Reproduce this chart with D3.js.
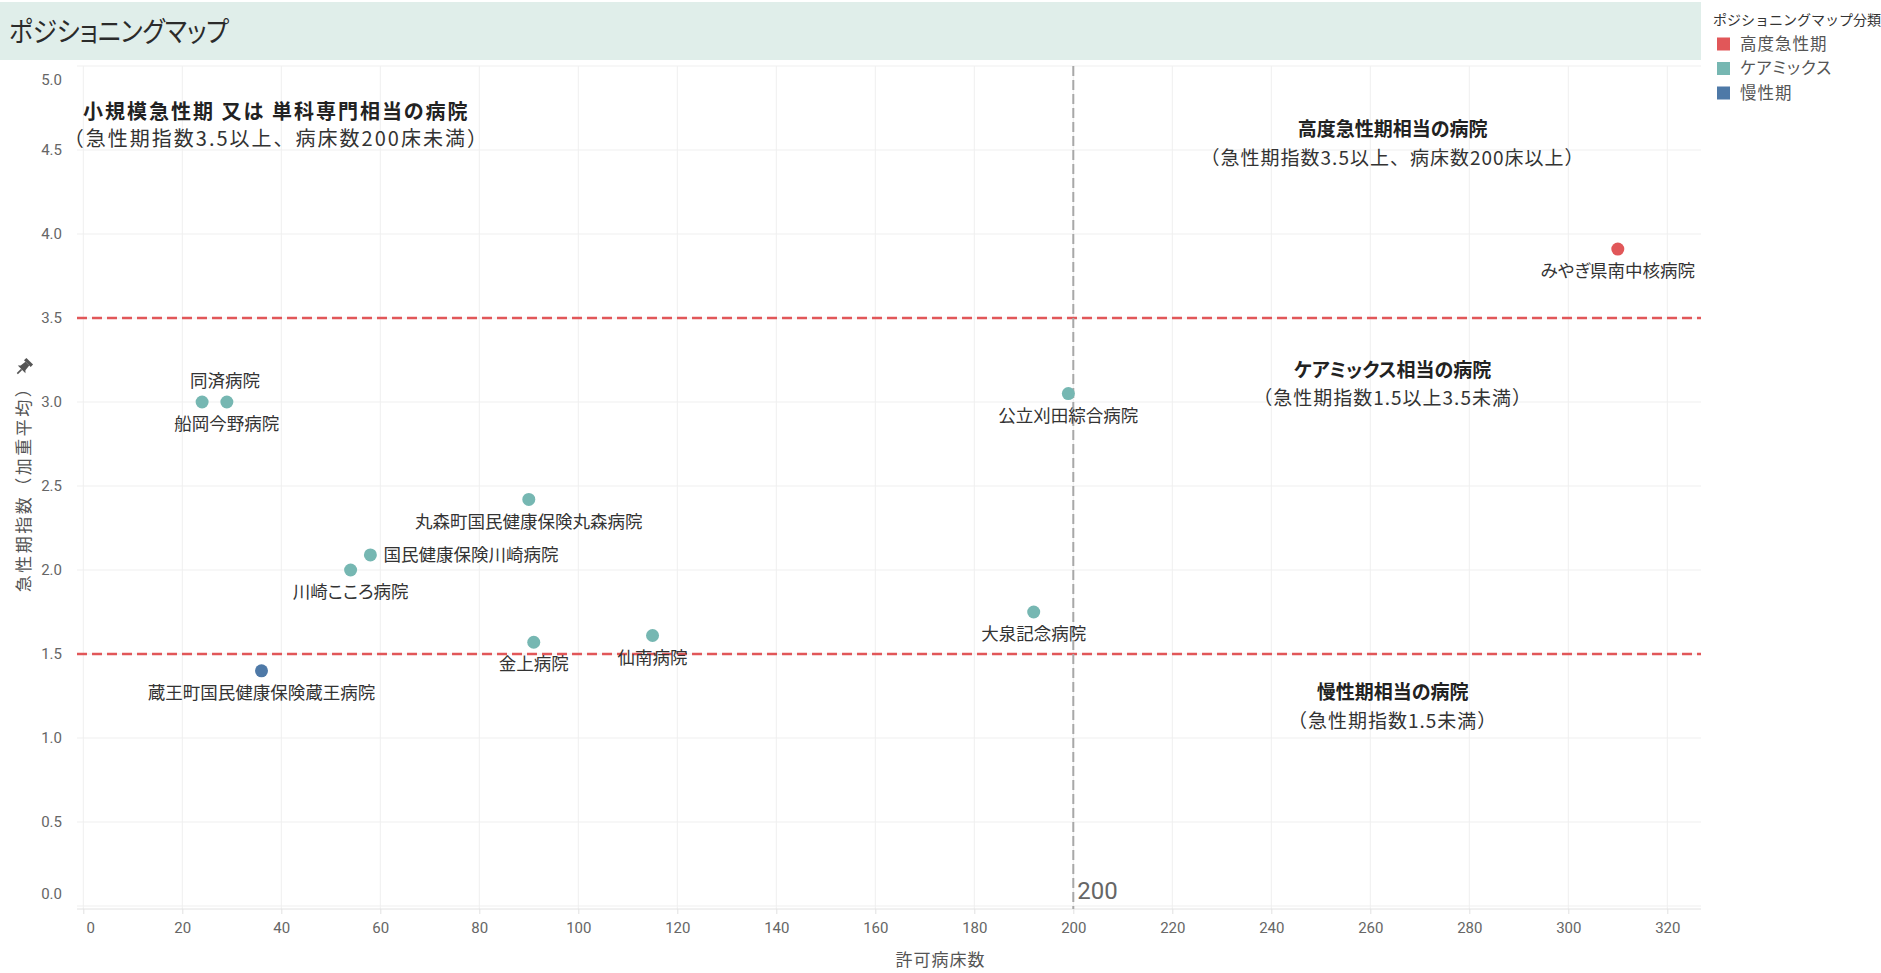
<!DOCTYPE html>
<meta charset="UTF-8">
<style>
body { margin: 0; background: #fff; }
svg text { font-family: "Noto Sans CJK JP", "Noto Sans", sans-serif; }
.grid line { stroke: #efefef; stroke-width: 1px; }
.axis .tick text { font-family: Roboto, "Liberation Sans", sans-serif; font-size: 15px; fill: #666; }
.axis .tick line { stroke: #e2e2e2; }
.mark-label { font-size: 17.5px; fill: #333; font-feature-settings: "palt"; }
.note-title { font-size: 19px; font-weight: bold; fill: #222; font-feature-settings: "palt"; }
.note-sub { font-size: 19px; fill: #333; letter-spacing: 1px; }
.note.big .note-title { font-size: 20px; letter-spacing: 2px; }
.note.big .note-sub { font-size: 20px; letter-spacing: 2px; }
.axis-title { font-size: 17px; fill: #555; letter-spacing: 1px; }
</style>
<body>
<script src="https://d3js.org/d3.v7.min.js"></script>
<script>
// ---- data ----
var hospitals = ["みやぎ県南中核病院", "公立刈田綜合病院", "同済病院", "船岡今野病院",
  "丸森町国民健康保険丸森病院", "国民健康保険川崎病院", "川崎こころ病院", "大泉記念病院",
  "金上病院", "仙南病院", "蔵王町国民健康保険蔵王病院"];
var beds = [310, 199, 24, 29, 90, 58, 54, 192, 91, 115, 36];
var acuteIndex = [3.91, 3.05, 3.0, 3.0, 2.42, 2.09, 2.0, 1.75, 1.57, 1.61, 1.40];
var category = ["高度急性期", "ケアミックス", "ケアミックス", "ケアミックス", "ケアミックス",
  "ケアミックス", "ケアミックス", "ケアミックス", "ケアミックス", "ケアミックス", "慢性期"];

var categories = ["高度急性期", "ケアミックス", "慢性期"];
var categoryColors = ["#e15759", "#76b7b2", "#4e79a7"];

var xTicks = [0, 20, 40, 60, 80, 100, 120, 140, 160, 180, 200, 220, 240, 260, 280, 300, 320];
var yTicks = [0, 0.5, 1.0, 1.5, 2.0, 2.5, 3.0, 3.5, 4.0, 4.5, 5.0];
var acuteLines = [3.5, 1.5];
var bedLine = 200;

var noteTitles = ["小規模急性期 又は 単科専門相当の病院", "高度急性期相当の病院", "ケアミックス相当の病院", "慢性期相当の病院"];
var noteSubs = ["（急性期指数3.5以上、病床数200床未満）", "（急性期指数3.5以上、病床数200床以上）",
  "（急性期指数1.5以上3.5未満）", "（急性期指数1.5未満）"];

// ---- layout ----
var width = 1881, height = 973;
var plot = {left: 77, right: 1701, top: 66, bottom: 909};
// note anchors, in axis units
var noteAnchor = [[39, 4.725], [264.5, 4.62], [264.5, 3.19], [264.5, 1.27]];
// label placement for the marks (default: below)
var labelSide = {"国民健康保険川崎病院": "right", "同済病院": "above"};
var labelShift = {"同済病院": 23};

var svg = d3.select("body").append("svg")
    .attr("width", width)
    .attr("height", height);

var x = d3.scaleLinear().domain([0, 320]).range([83.3, 1667.3]);
var y = d3.scaleLinear().domain([0, 5]).range([906, 66]);
var color = d3.scaleOrdinal().domain(categories).range(categoryColors);

// title band
svg.append("rect")
    .attr("x", 0).attr("y", 2)
    .attr("width", plot.right).attr("height", 58)
    .attr("fill", "#e0eeea");
svg.append("text")
    .attr("transform", "translate(9,42) scale(0.88,1)")
    .style("font-size", "28px")
    .style("font-feature-settings", "'palt'")
    .attr("fill", "#2b2b2b")
    .text("ポジショニングマップ");

// grid
var grid = svg.append("g").attr("class", "grid");
grid.selectAll("line.v").data(xTicks).enter().append("line")
    .attr("class", "v")
    .attr("x1", function(d) { return x(d); })
    .attr("x2", function(d) { return x(d); })
    .attr("y1", plot.top).attr("y2", plot.bottom);
grid.selectAll("line.h").data(yTicks).enter().append("line")
    .attr("class", "h")
    .attr("x1", plot.left).attr("x2", plot.right)
    .attr("y1", function(d) { return y(d); })
    .attr("y2", function(d) { return y(d); });

// axes
var xAxis = svg.append("g")
    .attr("class", "axis")
    .attr("transform", "translate(0," + plot.bottom + ")")
    .call(d3.axisBottom(x).tickValues(xTicks).tickSize(5).tickPadding(8).tickFormat(d3.format("d")));
xAxis.select(".domain").remove();
// first label is nudged inward, as in the original
xAxis.selectAll(".tick text").attr("dx", function(d) { return d === 0 ? 7 : 0; });
svg.append("line")
    .attr("x1", plot.left).attr("x2", plot.right)
    .attr("y1", plot.bottom).attr("y2", plot.bottom)
    .attr("stroke", "#e2e2e2");

var yAxis = svg.append("g")
    .attr("class", "axis")
    .attr("transform", "translate(" + plot.left + ",0)")
    .call(d3.axisLeft(y).tickValues(yTicks).tickSize(0).tickPadding(15).tickFormat(d3.format(".1f")));
yAxis.select(".domain").remove();
// keep the end labels inside the plot
yAxis.selectAll(".tick text")
    .attr("dy", function(d) { return d === 5 ? "1.2em" : d === 0 ? "-0.5em" : "0.32em"; });

// axis titles, centred on the whole sheet
svg.append("text")
    .attr("class", "axis-title")
    .attr("x", width / 2)
    .attr("y", 966)
    .attr("text-anchor", "middle")
    .text("許可病床数");

svg.append("text")
    .attr("class", "axis-title")
    .attr("transform", "translate(30,485) rotate(-90)")
    .attr("text-anchor", "middle")
    .style("letter-spacing", "2.5px")
    .text("急性期指数（加重平均）");

// pin glyph at the end of the y title
var pin = svg.append("g").attr("transform", "translate(24,367) rotate(45) scale(1.35)").attr("fill", "#555");
pin.append("rect").attr("x", -3.5).attr("y", -6).attr("width", 7).attr("height", 2.5);
pin.append("path").attr("d", "M-2,-3.5 L2,-3.5 L2.5,1 L4,2.5 L-4,2.5 L-2.5,1 Z");
pin.append("line").attr("x1", 0).attr("x2", 0).attr("y1", 2.5).attr("y2", 7)
    .attr("stroke", "#555").attr("stroke-width", 1.2);

// reference lines
svg.selectAll("line.acute").data(acuteLines).enter().append("line")
    .attr("class", "acute")
    .attr("x1", plot.left).attr("x2", plot.right)
    .attr("y1", function(d) { return y(d); })
    .attr("y2", function(d) { return y(d); })
    .attr("stroke", "#e15759")
    .attr("stroke-width", 2.5)
    .attr("stroke-dasharray", "10,5");

svg.append("line")
    .attr("x1", x(bedLine)).attr("x2", x(bedLine))
    .attr("y1", plot.top).attr("y2", plot.bottom)
    .attr("stroke", "#a8a8a8")
    .attr("stroke-width", 2)
    .attr("stroke-dasharray", "10,4");
svg.append("text")
    .attr("x", x(bedLine) + 4)
    .attr("y", 899)
    .style("font-family", "Roboto, sans-serif")
    .style("font-size", "24px")
    .attr("fill", "#666")
    .text(bedLine);

// quadrant notes
var notes = svg.selectAll("g.note").data(noteTitles).enter().append("g")
    .attr("class", function(d, i) { return i === 0 ? "note big" : "note"; })
    .attr("transform", function(d, i) {
      return "translate(" + x(noteAnchor[i][0]) + "," + y(noteAnchor[i][1]) + ")";
    });
notes.append("text")
    .attr("class", "note-title")
    .attr("text-anchor", "middle")
    .attr("dy", "0.35em")
    .text(function(d) { return d; });
notes.append("text")
    .attr("class", "note-sub")
    .attr("text-anchor", "middle")
    .attr("y", function(d, i) { return i === 0 ? 27 : 28.5; })
    .attr("dy", "0.35em")
    .text(function(d, i) { return noteSubs[i]; });

// marks
var idx = d3.range(hospitals.length);
svg.selectAll("circle.mark").data(idx).enter().append("circle")
    .attr("class", "mark")
    .attr("cx", function(i) { return x(beds[i]); })
    .attr("cy", function(i) { return y(acuteIndex[i]); })
    .attr("r", 6.5)
    .attr("fill", function(i) { return color(category[i]); });

svg.selectAll("text.mark-label").data(idx).enter().append("text")
    .attr("class", "mark-label")
    .attr("x", function(i) {
      var side = labelSide[hospitals[i]];
      return x(beds[i]) + (side === "right" ? 13 : (labelShift[hospitals[i]] || 0));
    })
    .attr("y", function(i) {
      var side = labelSide[hospitals[i]];
      return y(acuteIndex[i]) + (side === "right" ? 0 : side === "above" ? -21 : 22);
    })
    .attr("dy", "0.35em")
    .attr("text-anchor", function(i) { return labelSide[hospitals[i]] === "right" ? "start" : "middle"; })
    .text(function(i) { return hospitals[i]; });

// legend
var legend = svg.append("g").attr("transform", "translate(1713,0)");
legend.append("text")
    .attr("x", 0).attr("y", 20)
    .attr("dy", "0.35em")
    .style("font-size", "14px")
    .attr("fill", "#333")
    .text("ポジショニングマップ分類");
var items = legend.selectAll("g.item").data(categories).enter().append("g")
    .attr("class", "item")
    .attr("transform", function(d, i) { return "translate(4," + (44 + i * 24.5) + ")"; });
items.append("rect")
    .attr("x", 0).attr("y", -6.5)
    .attr("width", 13).attr("height", 13)
    .attr("fill", function(d) { return color(d); });
items.append("text")
    .attr("x", 23).attr("dy", "0.35em")
    .style("font-size", "16.5px")
    .style("font-feature-settings", "'palt'")
    .style("letter-spacing", "1px")
    .attr("fill", "#555")
    .text(function(d) { return d; });
</script>
</body>
